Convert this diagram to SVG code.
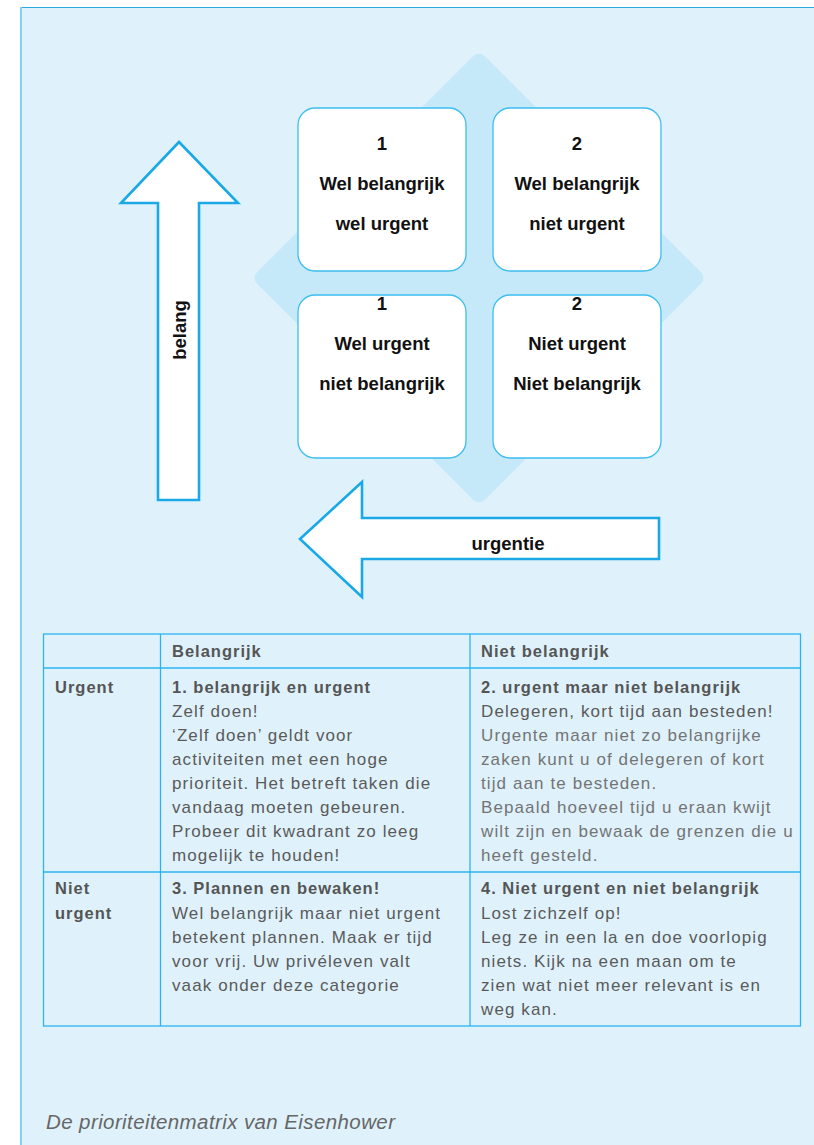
<svg xmlns="http://www.w3.org/2000/svg" width="814" height="1145" viewBox="0 0 814 1145">
<style>
.box{fill:#ffffff;stroke:#3dbdf0;stroke-width:1.3}
.arrow{fill:#ffffff;stroke:#1aa9e6;stroke-width:2.6}
.bt{font-family:"Liberation Sans",Arial,sans-serif;font-weight:bold;font-size:18.5px;fill:#111;text-anchor:middle}
.grid{stroke:#2ab4ee;stroke-width:1.3;fill:none}
.th{font-family:"Liberation Sans",Arial,sans-serif;font-weight:bold;font-size:16.5px;fill:#555;letter-spacing:1px}
.td{font-family:"Liberation Sans",Arial,sans-serif;font-size:17px;fill:#5a5a5a;letter-spacing:1.1px}
.tl{font-family:"Liberation Sans",Arial,sans-serif;font-size:17px;fill:#747474;letter-spacing:1.1px}
.cap{font-family:"Liberation Sans",Arial,sans-serif;font-style:italic;font-size:20.5px;fill:#666;letter-spacing:0.4px}
</style>
<rect x="0" y="0" width="814" height="1145" fill="#ffffff"/>
<g id="panel">
<rect x="20" y="7" width="800" height="1145" fill="#dff2fc"/>
<line x1="20" y1="7.5" x2="814" y2="7.5" stroke="#2aa8e0" stroke-width="1.2"/>
<line x1="21" y1="7" x2="21" y2="1145" stroke="#80d2f2" stroke-width="2"/>
</g>
<g id="diamond">
<rect x="318" y="117" width="322" height="322" rx="8" fill="#c6e9f9" transform="rotate(45 479 278)"/>
</g>
<g id="connectors">
<g id="arrow-belang">
<polygon class="arrow" points="179,142 238,203 199,203 199,500 158,500 158,203 121,203"/>
<text class="bt" x="0" y="0" transform="translate(186,330) rotate(-90)" font-size="16.5px">belang</text>
</g>
<g id="arrow-urgentie">
<polygon class="arrow" points="300,539 362,482 362,518 659,518 659,559 362,559 362,597"/>
<text class="bt" x="508" y="550">urgentie</text>
</g>
</g>
<g id="q1">
<rect class="box" x="298" y="108" width="168" height="163" rx="17"/>
<text class="bt" x="382" y="150">1</text>
<text class="bt" x="382" y="190">Wel belangrijk</text>
<text class="bt" x="382" y="230">wel urgent</text>
</g>
<g id="q2">
<rect class="box" x="493" y="108" width="168" height="163" rx="17"/>
<text class="bt" x="577" y="150">2</text>
<text class="bt" x="577" y="190">Wel belangrijk</text>
<text class="bt" x="577" y="230">niet urgent</text>
</g>
<g id="q3">
<rect class="box" x="298" y="295" width="168" height="163" rx="17"/>
<text class="bt" x="382" y="310">1</text>
<text class="bt" x="382" y="350">Wel urgent</text>
<text class="bt" x="382" y="390">niet belangrijk</text>
</g>
<g id="q4">
<rect class="box" x="493" y="295" width="168" height="163" rx="17"/>
<text class="bt" x="577" y="310">2</text>
<text class="bt" x="577" y="350">Niet urgent</text>
<text class="bt" x="577" y="390">Niet belangrijk</text>
</g>
<g id="table">
<rect class="grid" x="43.5" y="634" width="757" height="392"/>
<line class="grid" x1="43.5" y1="668" x2="800.5" y2="668"/>
<line class="grid" x1="43.5" y1="872" x2="800.5" y2="872"/>
<line class="grid" x1="160.5" y1="634" x2="160.5" y2="1026"/>
<line class="grid" x1="470" y1="634" x2="470" y2="1026"/>
<text class="th" x="172" y="657">Belangrijk</text>
<text class="th" x="481" y="657">Niet belangrijk</text>
<text class="th" x="55" y="693">Urgent</text>
<text class="th" x="55" y="894">Niet</text>
<text class="th" x="55" y="919">urgent</text>
<text class="th" x="172" y="693">1. belangrijk en urgent</text>
<text class="td" x="172" y="717">Zelf doen!</text>
<text class="td" x="172" y="741">‘Zelf doen’ geldt voor</text>
<text class="td" x="172" y="765">activiteiten met een hoge</text>
<text class="td" x="172" y="789">prioriteit. Het betreft taken die</text>
<text class="td" x="172" y="813">vandaag moeten gebeuren.</text>
<text class="td" x="172" y="837">Probeer dit kwadrant zo leeg</text>
<text class="td" x="172" y="861">mogelijk te houden!</text>
<text class="th" x="481" y="693">2. urgent maar niet belangrijk</text>
<text class="td" x="481" y="717">Delegeren, kort tijd aan besteden!</text>
<text class="tl" x="481" y="741">Urgente maar niet zo belangrijke</text>
<text class="tl" x="481" y="765">zaken kunt u of delegeren of kort</text>
<text class="tl" x="481" y="789">tijd aan te besteden.</text>
<text class="tl" x="481" y="813">Bepaald hoeveel tijd u eraan kwijt</text>
<text class="tl" x="481" y="837">wilt zijn en bewaak de grenzen die u</text>
<text class="tl" x="481" y="861">heeft gesteld.</text>
<text class="th" x="172" y="894">3. Plannen en bewaken!</text>
<text class="td" x="172" y="919">Wel belangrijk maar niet urgent</text>
<text class="td" x="172" y="943">betekent plannen. Maak er tijd</text>
<text class="td" x="172" y="967">voor vrij. Uw privéleven valt</text>
<text class="td" x="172" y="991">vaak onder deze categorie</text>
<text class="th" x="481" y="894">4. Niet urgent en niet belangrijk</text>
<text class="td" x="481" y="919">Lost zichzelf op!</text>
<text class="td" x="481" y="943">Leg ze in een la en doe voorlopig</text>
<text class="td" x="481" y="967">niets. Kijk na een maan om te</text>
<text class="td" x="481" y="991">zien wat niet meer relevant is en</text>
<text class="td" x="481" y="1015">weg kan.</text>
</g>
<g id="caption">
<text class="cap" x="46" y="1129">De prioriteitenmatrix van Eisenhower</text>
</g>
</svg>
